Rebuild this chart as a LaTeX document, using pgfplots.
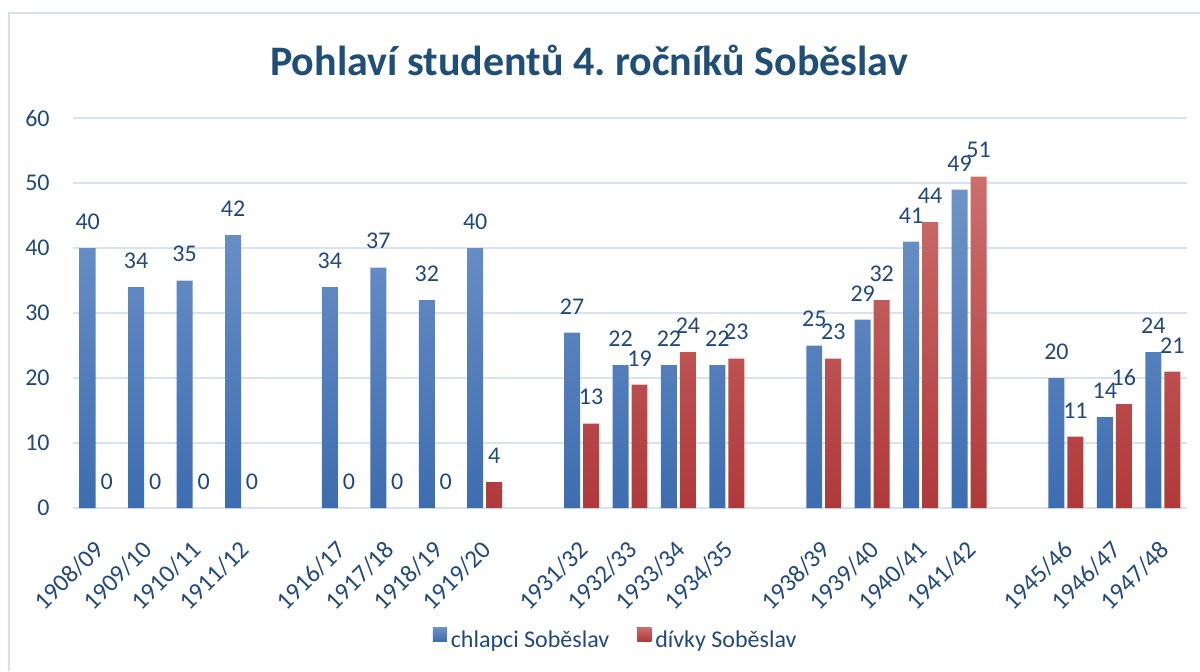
\documentclass[border=0pt]{standalone}
\usepackage{fontspec}
\setmainfont{Carlito}
\usepackage{pgfplots}
\pgfplotsset{compat=1.18}
\definecolor{txt}{HTML}{1F497D}
\definecolor{ttl}{HTML}{1F4E79}
\definecolor{gridc}{HTML}{D9E2F3}
\definecolor{framec}{HTML}{D6E0F0}
\definecolor{btop}{HTML}{6F93C9}
\definecolor{bbot}{HTML}{3D6DB0}
\definecolor{rtop}{HTML}{CC6E6C}
\definecolor{rbot}{HTML}{B0393A}
\begin{document}
\begin{tikzpicture}
\useasboundingbox (0pt,0pt) rectangle (600pt,335.5pt);
\draw[framec, line width=1pt] (4.5pt,0pt) -- (4.5pt,329pt) -- (600pt,329pt);
\node[anchor=base, text=ttl, font=\fontsize{21}{25}\selectfont\bfseries, inner sep=0pt] at (294.5pt,298pt) {Pohlaví studentů 4.\ ročníků Soběslav};
\begin{axis}[
  at={(36.5pt,81.5pt)}, anchor=south west,
  scale only axis, width=557pt, height=195pt,
  xmin=-0.5, xmax=22.5, ymin=0, ymax=60,
  clip=false,
  axis line style={draw=none},
  major tick length=0pt,
  ytick={0,10,...,60},
  ymajorgrids, grid style={gridc, line width=1pt},
  xtick={0,1,2,3,5,6,7,8,10,11,12,13,15,16,17,18,20,21,22},
  xticklabels={1908/09,1909/10,1910/11,1911/12,1916/17,1917/18,1918/19,1919/20,1931/32,1932/33,1933/34,1934/35,1938/39,1939/40,1940/41,1941/42,1945/46,1946/47,1947/48},
  xticklabel style={rotate=45, anchor=north east, inner sep=0pt, text=txt, font=\fontsize{12.5}{14}\selectfont, xshift=-3pt},
  xticklabel shift=13pt,
  yticklabel style={text=txt, font=\fontsize{12}{14}\selectfont, inner sep=0pt},
  yticklabel shift=11.5pt,
  /pgf/number format/assume math mode=true,
  nodes near coords style={text=txt, font=\fontsize{12}{14}\selectfont, anchor=south, inner sep=0pt, yshift=9pt},
  legend style={at={(0.488,-0.341)}, anchor=center, draw=none, fill=none, font=\fontsize{12}{14}\selectfont, text=txt, legend columns=2, /tikz/every even column/.append style={column sep=12pt}},
]
\addplot[ybar, bar width=0.33, bar shift=-0.196, draw=none, top color=btop, bottom color=bbot,
  nodes near coords, every node near coord/.append style={xshift=-4.75pt},
  legend image code/.code={\fill[top color=btop, bottom color=bbot] (0pt,0pt) rectangle (7pt,7pt);}] coordinates {
(0,40) (1,34) (2,35) (3,42)
(5,34) (6,37) (7,32) (8,40)
(10,27) (11,22) (12,22) (13,22)
(15,25) (16,29) (17,41) (18,49)
(20,20) (21,14) (22,24)};
\addlegendentry{chlapci Soběslav}
\addplot[ybar, bar width=0.33, bar shift=0.196, draw=none, top color=rtop, bottom color=rbot,
  nodes near coords, every node near coord/.append style={xshift=4.75pt},
  legend image code/.code={\fill[top color=rtop, bottom color=rbot] (0pt,0pt) rectangle (7pt,7pt);}] coordinates {
(8,4)
(10,13) (11,19) (12,24) (13,23)
(15,23) (16,32) (17,44) (18,51)
(20,11) (21,16) (22,21)};
\addlegendentry{dívky Soběslav}
\addplot[ybar, bar width=0.33, bar shift=0.196, draw=none, fill=none, forget plot,
  nodes near coords, every node near coord/.append style={xshift=4.75pt}] coordinates {
(0,0) (1,0) (2,0) (3,0) (5,0) (6,0) (7,0)};
\end{axis}
\end{tikzpicture}
\end{document}
